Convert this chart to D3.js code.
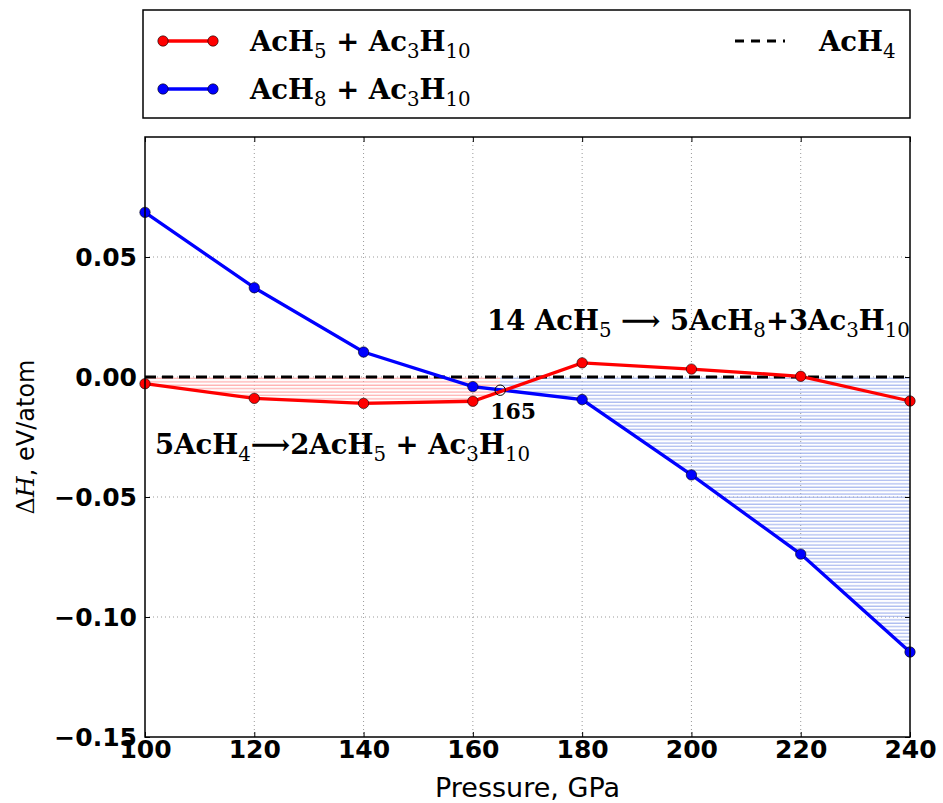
<!DOCTYPE html>
<html>
<head>
<meta charset="utf-8">
<script src="https://cdn.jsdelivr.net/npm/d3@7"></script>
<style>
  body { margin: 0; background: #fff; }
  svg { display: block; }
  .tick text { font-family: "DejaVu Sans", sans-serif; font-weight: bold; }
  .math { font-family: "DejaVu Serif", serif; font-weight: bold; }
  .sub { font-weight: normal; }
</style>
</head>
<body>
<div class="chart"></div>
<script>
const pressures = [100, 120, 140, 160, 180, 200, 220, 240];
const acH5Series = [-0.0028, -0.0089, -0.0110, -0.0101, 0.0059, 0.0033, 0.0003, -0.0100];
const acH8Series = [0.0686, 0.0372, 0.0104, -0.0040, -0.0094, -0.0408, -0.0738, -0.1146];
const crossing = { p: 165, h: -0.0055 };
const xTicks = [100, 120, 140, 160, 180, 200, 220, 240];
const yTicks = [-0.15, -0.10, -0.05, 0.00, 0.05];

const width = 943, height = 803;
const margin = { left: 145, right: 33, top: 137, bottom: 66 };

const svg = d3.select('.chart').append('svg')
  .attr('width', width)
  .attr('height', height);

const x = d3.scaleLinear().domain([100, 240]).range([margin.left, width - margin.right]);
const y = d3.scaleLinear().domain([-0.15, 0.1]).range([height - margin.bottom, margin.top]);

// hatch patterns
const defs = svg.append('defs');
[['hatchRed', '#ff9a9a'], ['hatchBlue', '#94a8ec']].forEach(([id, col]) => {
  const p = defs.append('pattern')
    .attr('id', id)
    .attr('patternUnits', 'userSpaceOnUse')
    .attr('width', 8).attr('height', 3.4);
  p.append('line')
    .attr('x1', 0).attr('x2', 8).attr('y1', 1).attr('y2', 1)
    .attr('stroke', col).attr('stroke-width', 1);
});

// grid
const grid = svg.append('g');
grid.selectAll('.vg').data(xTicks.slice(1, -1)).enter().append('line')
  .attr('x1', d => x(d)).attr('x2', d => x(d))
  .attr('y1', y.range()[1]).attr('y2', y.range()[0])
  .attr('stroke', '#999').attr('stroke-width', 1).attr('stroke-dasharray', '1,3');
grid.selectAll('.hg').data(yTicks.slice(1)).enter().append('line')
  .attr('x1', x.range()[0]).attr('x2', x.range()[1])
  .attr('y1', d => y(d)).attr('y2', d => y(d))
  .attr('stroke', '#999').attr('stroke-width', 1).attr('stroke-dasharray', '1,3');

// hatched areas
const redPts = pressures.map((p, i) => ({ p, h: acH5Series[i] })).filter(d => d.p <= 160);
redPts.push(crossing);
const bluePts = [crossing].concat(pressures.map((p, i) => ({ p, h: acH8Series[i] })).filter(d => d.p >= 180));

const area = d3.area().x(d => x(d.p)).y0(y(0)).y1(d => y(d.h));
svg.append('path').datum(redPts).attr('d', area).attr('fill', 'url(#hatchRed)');
svg.append('path').datum(bluePts).attr('d', area).attr('fill', 'url(#hatchBlue)');

// zero reference
svg.append('line')
  .attr('x1', x(100)).attr('x2', x(240))
  .attr('y1', y(0)).attr('y2', y(0))
  .attr('stroke', '#000').attr('stroke-width', 3).attr('stroke-dasharray', '11,6');

// series lines
const line = d3.line().x((d, i) => x(pressures[i])).y(d => y(d));
const series = [
  { vals: acH8Series, color: '#0000ff' },
  { vals: acH5Series, color: '#ff0000' }
];
series.forEach(s => {
  svg.append('path').datum(s.vals)
    .attr('d', line)
    .attr('fill', 'none')
    .attr('stroke', s.color)
    .attr('stroke-width', 3.3);
});
series.forEach(s => {
  svg.selectAll(null).data(s.vals).enter().append('circle')
    .attr('cx', (d, i) => x(pressures[i]))
    .attr('cy', d => y(d))
    .attr('r', 5.2)
    .attr('fill', s.color)
    .attr('stroke', '#000')
    .attr('stroke-width', 0.6);
});

svg.append('circle')
  .attr('cx', x(crossing.p)).attr('cy', y(crossing.h))
  .attr('r', 5.2).attr('fill', 'none')
  .attr('stroke', '#000').attr('stroke-width', 1);

svg.append('text')
  .attr('x', x(crossing.p) - 10).attr('y', y(crossing.h) + 29)
  .attr('font-family', '"DejaVu Serif", serif')
  .attr('font-weight', 'bold')
  .attr('font-size', 22)
  .text('165');

// frame
svg.append('rect')
  .attr('x', x.range()[0]).attr('y', y.range()[1])
  .attr('width', x.range()[1] - x.range()[0])
  .attr('height', y.range()[0] - y.range()[1])
  .attr('fill', 'none').attr('stroke', '#000').attr('stroke-width', 1.5);

// axes
const xAxis = svg.append('g')
  .attr('transform', `translate(0,${y.range()[0]})`)
  .call(d3.axisBottom(x).tickValues(xTicks).tickSize(-5).tickPadding(10));
xAxis.select('.domain').remove();
xAxis.selectAll('text').attr('font-size', 25).attr('dy', '0.75em').attr('y', 2);

const yAxis = svg.append('g')
  .attr('transform', `translate(${x.range()[0]},0)`)
  .call(d3.axisLeft(y).tickValues(yTicks).tickSize(-5).tickPadding(8)
    .tickFormat(d => d3.format('.2f')(d).replace('-', '\u2212')));
yAxis.select('.domain').remove();
yAxis.selectAll('text').attr('font-size', 25);

// mirrored ticks on top/right
svg.append('g')
  .attr('transform', `translate(0,${y.range()[1]})`)
  .call(d3.axisTop(x).tickValues(xTicks).tickSize(-5).tickFormat(''))
  .select('.domain').remove();
svg.append('g')
  .attr('transform', `translate(${x.range()[1]},0)`)
  .call(d3.axisRight(y).tickValues(yTicks).tickSize(-5).tickFormat(''))
  .select('.domain').remove();

// axis titles
svg.append('text')
  .attr('x', (x.range()[0] + x.range()[1]) / 2).attr('y', 797)
  .attr('text-anchor', 'middle')
  .attr('font-family', '"DejaVu Sans", sans-serif')
  .attr('font-size', 27)
  .text('Pressure, GPa');

const yl = svg.append('text')
  .attr('transform', `translate(34,${(y.range()[0] + y.range()[1]) / 2}) rotate(-90)`)
  .attr('text-anchor', 'middle')
  .attr('font-family', '"DejaVu Sans", sans-serif')
  .attr('font-size', 24);
yl.append('tspan').attr('font-family', '"DejaVu Serif", serif').text('\u0394');
yl.append('tspan').attr('font-family', '"DejaVu Serif", serif').attr('font-style', 'italic').text('H');
yl.append('tspan').text(', eV/atom');

// formula helper: parts [text, isSub]
function formula(g, px, py, size, parts) {
  const t = g.append('text').attr('class', 'math')
    .attr('x', px).attr('y', py).attr('font-size', size);
  let shifted = false;
  parts.forEach(([s, sub]) => {
    const ts = t.append('tspan').text(s);
    if (sub && !shifted) { ts.attr('class', 'sub').attr('dy', size * 0.25).attr('font-size', size * 0.72); shifted = true; }
    else if (sub) { ts.attr('class', 'sub').attr('font-size', size * 0.72); }
    else if (shifted) { ts.attr('dy', -size * 0.25); shifted = false; }
  });
  return t;
}

// annotations
formula(svg, 155, 454, 27.5, [['5AcH'], ['4', 1], ['\u27F62AcH'], ['5', 1], [' + Ac'], ['3', 1], ['H'], ['10', 1]]);
formula(svg, 487, 330, 27.5, [['14 AcH'], ['5', 1], [' \u27F6 5AcH'], ['8', 1], ['+3Ac'], ['3', 1], ['H'], ['10', 1]]);

// legend
const lg = svg.append('g');
lg.append('rect')
  .attr('x', 143).attr('y', 10).attr('width', 767).attr('height', 108)
  .attr('fill', '#fff').attr('stroke', '#000').attr('stroke-width', 1.5);
const legendRows = [
  { color: '#ff0000', y: 41, parts: [['AcH'], ['5', 1], [' + Ac'], ['3', 1], ['H'], ['10', 1]] },
  { color: '#0000ff', y: 89, parts: [['AcH'], ['8', 1], [' + Ac'], ['3', 1], ['H'], ['10', 1]] }
];
legendRows.forEach(r => {
  lg.append('line').attr('x1', 163).attr('x2', 213).attr('y1', r.y).attr('y2', r.y)
    .attr('stroke', r.color).attr('stroke-width', 3.3);
  [163, 213].forEach(cx => lg.append('circle').attr('cx', cx).attr('cy', r.y).attr('r', 5.2)
    .attr('fill', r.color).attr('stroke', '#000').attr('stroke-width', 0.6));
  formula(lg, 250, r.y + 10, 27.5, r.parts);
});
lg.append('line').attr('x1', 735).attr('x2', 785).attr('y1', 41).attr('y2', 41)
  .attr('stroke', '#000').attr('stroke-width', 3).attr('stroke-dasharray', '9,7');
formula(lg, 819, 51, 27.5, [['AcH'], ['4', 1]]);
</script>
</body>
</html>
